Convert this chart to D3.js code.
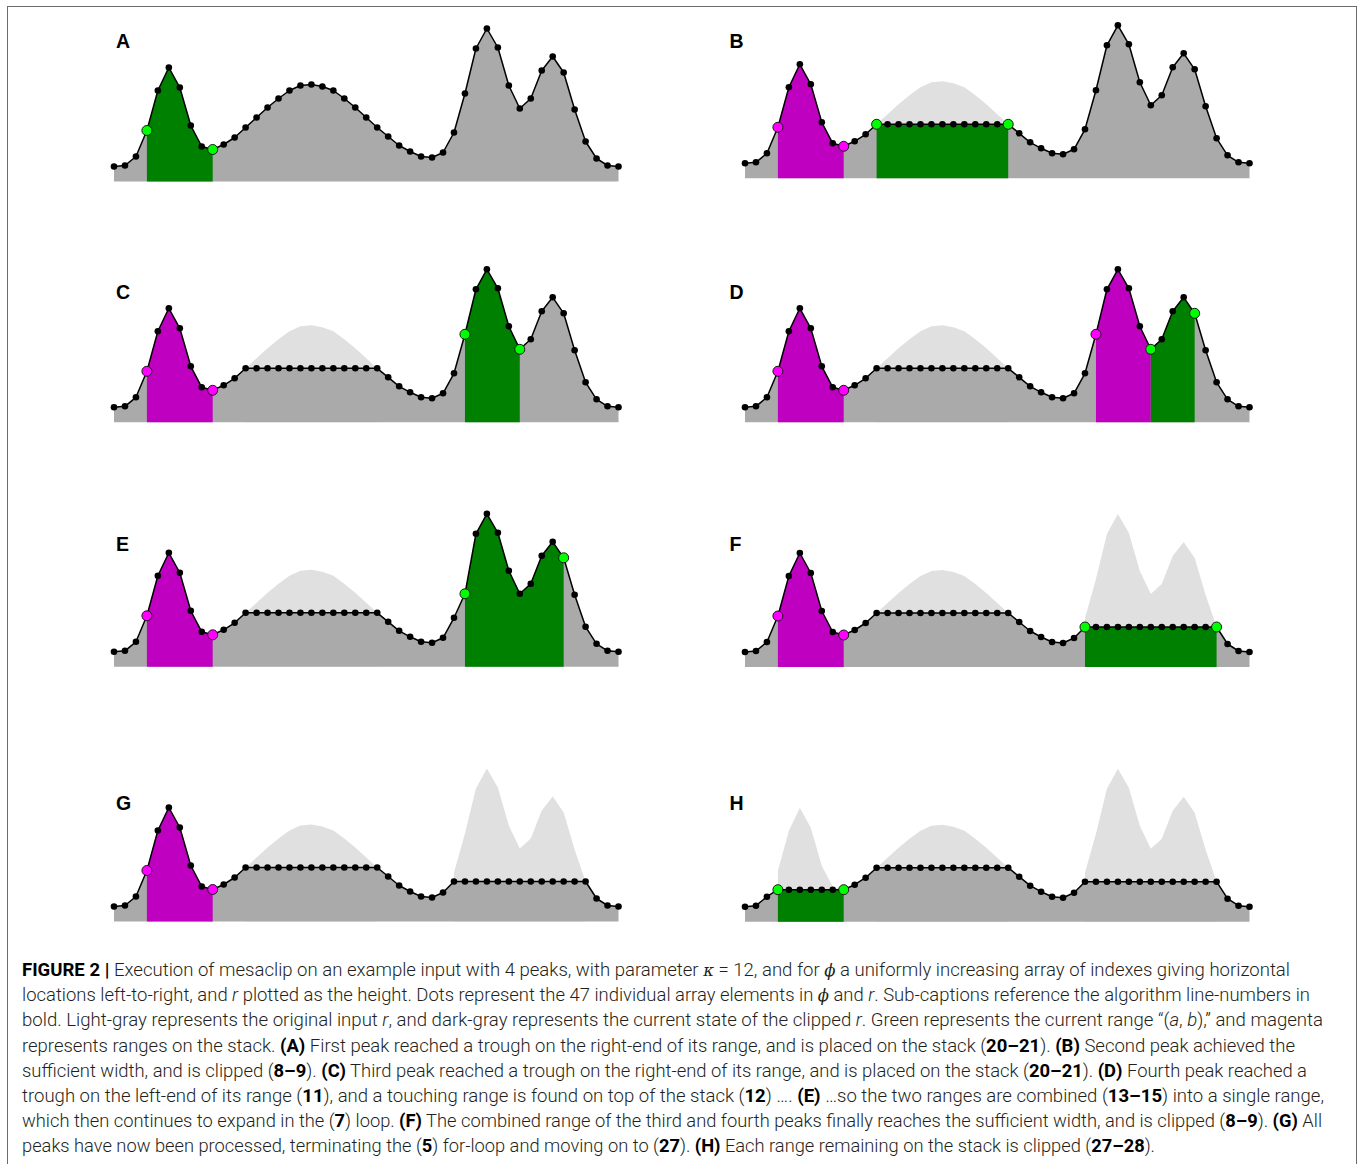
<!DOCTYPE html>
<html>
<head>
<meta charset="utf-8">
<script src="https://cdn.jsdelivr.net/npm/d3@7"></script>
<style>
  body { margin: 0; background: #fff; }
  svg { display: block; }
  .label { font-family: "Liberation Sans", Arial, sans-serif; font-weight: bold; font-size: 19.5px; fill: #000; }
  .caption { font-family: Roboto, "Liberation Sans", sans-serif; font-weight: 300; font-size: 18px; fill: #231f20; }
  .greek { font-family: "DejaVu Serif", serif; font-weight: normal; font-style: italic; font-size: 16px; }
</style>
</head>
<body>
<div id="figure"></div>
<script>
// original input r, one value per array element (47 of them)
var heights = [15, 16, 25, 51, 91, 114, 94, 56, 35, 32, 37, 44, 54, 64, 74, 83, 91, 96, 97, 95, 91, 83, 74, 64, 54,
               45, 36, 30, 25, 24, 29, 49, 88, 133, 153, 134, 96, 73, 83, 111, 125, 109, 72, 40, 23, 16, 15];

var panelNames = ["A", "B", "C", "D", "E", "F", "G", "H"];

// ranges already clipped in each panel: [from, to, level]
var panelClips = [
    [],
    [[12, 24, 54]],
    [[12, 24, 54]],
    [[12, 24, 54]],
    [[12, 24, 54]],
    [[12, 24, 54], [31, 43, 40]],
    [[12, 24, 54], [31, 43, 40]],
    [[3, 9, 32], [12, 24, 54], [31, 43, 40]]
];

// ranges sitting on the stack (magenta)
var panelStack = [[], [[3, 9]], [[3, 9]], [[3, 9], [32, 37]], [[3, 9]], [[3, 9]], [[3, 9]], []];

// the current range (a,b) in green
var panelCurrent = [[3, 9], [12, 24], [32, 37], [37, 41], [32, 41], [31, 43], null, [3, 9]];

// single values that differ from the input in a panel: [index, value]
var panelEdits = [[], [], [], [], [[32, 73]], [], [], []];

// caption, one entry per printed line: [text, style]
var captionLines = [
    [["FIGURE 2 | ", "b"], ["Execution of mesaclip on an example input with 4 peaks, with parameter ", ""], ["κ", "g"], [" = 12, and for ", ""], ["ϕ", "g"], [" a uniformly increasing array of indexes giving horizontal", ""]],
    [["locations left-to-right, and ", ""], ["r", "i"], [" plotted as the height. Dots represent the 47 individual array elements in ", ""], ["ϕ", "g"], [" and ", ""], ["r", "i"], [". Sub-captions reference the algorithm line-numbers in", ""]],
    [["bold. Light-gray represents the original input ", ""], ["r", "i"], [", and dark-gray represents the current state of the clipped ", ""], ["r", "i"], [". Green represents the current range “(", ""], ["a", "i"], [", ", ""], ["b", "i"], ["),” and magenta", ""]],
    [["represents ranges on the stack. ", ""], ["(A)", "b"], [" First peak reached a trough on the right-end of its range, and is placed on the stack (", ""], ["20–21", "b"], ["). ", ""], ["(B)", "b"], [" Second peak achieved the", ""]],
    [["sufficient width, and is clipped (", ""], ["8–9", "b"], ["). ", ""], ["(C)", "b"], [" Third peak reached a trough on the right-end of its range, and is placed on the stack (", ""], ["20–21", "b"], ["). ", ""], ["(D)", "b"], [" Fourth peak reached a", ""]],
    [["trough on the left-end of its range (", ""], ["11", "b"], ["), and a touching range is found on top of the stack (", ""], ["12", "b"], [") …. ", ""], ["(E)", "b"], [" …so the two ranges are combined (", ""], ["13–15", "b"], [") into a single range,", ""]],
    [["which then continues to expand in the (", ""], ["7", "b"], [") loop. ", ""], ["(F)", "b"], [" The combined range of the third and fourth peaks finally reaches the sufficient width, and is clipped (", ""], ["8–9", "b"], ["). ", ""], ["(G)", "b"], [" All", ""]],
    [["peaks have now been processed, terminating the (", ""], ["5", "b"], [") for-loop and moving on to (", ""], ["27", "b"], ["). ", ""], ["(H)", "b"], [" Each range remaining on the stack is clipped (", ""], ["27–28", "b"], [").", ""]]
];

var width = 1360, height = 1164;
var svg = d3.select("#figure").append("svg")
    .attr("width", width)
    .attr("height", height);

// thin frame round the figure
svg.append("rect")
    .attr("x", 7.5).attr("y", 6.5)
    .attr("width", 1349).attr("height", 1200)
    .attr("fill", "none")
    .attr("stroke", "#6b6b6b")
    .attr("stroke-width", 1);

// where each panel sits
var colX = [[114, 618.5], [745, 1249.5]];
var baselines = [181.5, 178.3, 422.3, 422.3, 666.8, 667, 921.5, 921.7];
var labelY = [48, 48, 299, 299, 551, 551, 810, 810];
var labelX = [116, 729.5];

var COLORS = {
    light: "#e0e0e0",
    dark: "#aaaaaa",
    green: "#008000",
    lime: "#00ff00",
    magenta: "#c000c0",
    pink: "#ff00ff"
};

/**
 * Current state of r for a panel: input with the clipped ranges flattened
 */
function panelState(i) {
    var state = heights.slice();
    panelClips[i].forEach(function (c) {
        for (var k = c[0]; k <= c[1]; k++) {
            state[k] = Math.min(state[k], c[2]);
        }
    });
    panelEdits[i].forEach(function (e) {
        state[e[0]] = e[1];
    });
    return state;
}

function drawPanel(i) {
    var col = i % 2;
    var base = baselines[i];
    var x = d3.scaleLinear().domain([0, heights.length - 1]).range(colX[col]);
    var y = d3.scaleLinear().domain([0, 160]).range([base, base - 160]);
    var state = panelState(i);
    var idx = d3.range(heights.length);

    var g = svg.append("g").attr("class", "panel");

    var areaOf = function (values) {
        return d3.area()
            .x(function (k) { return x(k); })
            .y0(y(0))
            .y1(function (k) { return y(values[k]); });
    };
    var span = function (r) { return d3.range(r[0], r[1] + 1); };

    // original input behind the clipped parts
    panelClips[i].forEach(function (c) {
        g.append("path")
            .attr("d", areaOf(heights)(span(c)))
            .attr("fill", COLORS.light);
    });

    // current clipped state
    g.append("path")
        .attr("d", areaOf(state)(idx))
        .attr("fill", COLORS.dark);

    panelStack[i].forEach(function (r) {
        g.append("path")
            .attr("d", areaOf(state)(span(r)))
            .attr("fill", COLORS.magenta);
    });

    if (panelCurrent[i]) {
        g.append("path")
            .attr("d", areaOf(state)(span(panelCurrent[i])))
            .attr("fill", COLORS.green);
    }

    g.append("path")
        .attr("d", d3.line()
            .x(function (k) { return x(k); })
            .y(function (k) { return y(state[k]); })(idx))
        .attr("fill", "none")
        .attr("stroke", "#000")
        .attr("stroke-width", 1.5)
        .attr("stroke-linejoin", "round");

    // which dots are range ends
    var ends = {};
    panelStack[i].forEach(function (r) { ends[r[0]] = COLORS.pink; ends[r[1]] = COLORS.pink; });
    if (panelCurrent[i]) {
        ends[panelCurrent[i][0]] = COLORS.lime;
        ends[panelCurrent[i][1]] = COLORS.lime;
    }

    g.selectAll("circle.dot")
        .data(idx)
        .enter()
        .append("circle")
        .attr("class", "dot")
        .attr("cx", function (k) { return x(k); })
        .attr("cy", function (k) { return y(state[k]); })
        .attr("r", function (k) { return ends[k] ? 5 : 3.3; })
        .attr("fill", function (k) { return ends[k] || "#000"; })
        .attr("stroke", function (k) { return ends[k] ? "#1a1a1a" : "none"; })
        .attr("stroke-width", 1);

    svg.append("text")
        .attr("class", "label")
        .attr("x", labelX[col])
        .attr("y", labelY[i])
        .text(panelNames[i]);
}

panelNames.forEach(function (name, i) {
    drawPanel(i);
});

// caption text, ragged right as printed
var lineEnds = [1290, 1310, 1323, 1295, 1307, 1324, 1322, 1155];
var caption = svg.append("g");
captionLines.forEach(function (line, li) {
    var t = caption.append("text")
        .attr("class", "caption")
        .attr("x", 22)
        .attr("y", 976 + li * 25.2)
        .attr("textLength", lineEnds[li] - 22)
        .attr("lengthAdjust", "spacingAndGlyphs");
    line.forEach(function (seg) {
        t.append("tspan")
            .text(seg[0])
            .attr("class", seg[1] === "g" ? "greek" : null)
            .attr("font-weight", seg[1] === "b" ? "bold" : null)
            .attr("fill", seg[1] === "b" ? "#000" : null)
            .attr("font-style", seg[1] === "i" ? "italic" : null);
    });
});
</script>
</body>
</html>
